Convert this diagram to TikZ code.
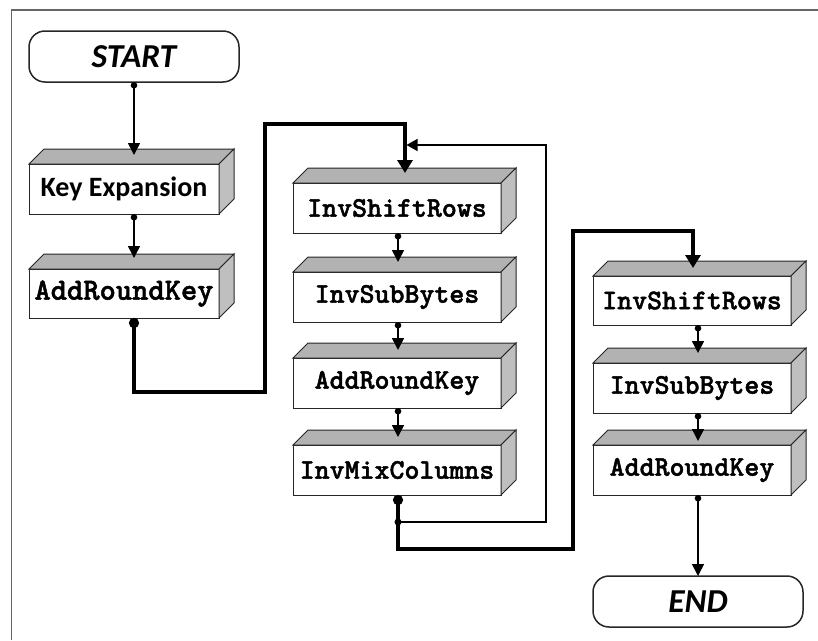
\documentclass[tikz,border=0pt]{standalone}
\usepackage{fontspec}
\setmainfont{Carlito}
\newfontfamily\codefont[Extension=.otf, RawFeature={embolden=1.6}]{lmmonolt10-bold}
\usetikzlibrary{arrows.meta}

\tikzset{
  block/.style={draw=black!85, line width=1pt, fill=white, minimum height=50pt, inner sep=0pt, outer sep=0pt, font=\codefont\fontsize{28.5}{30}\selectfont},
  terminal/.style={draw=black!85, line width=1.5pt, rounded corners=16pt, minimum width=210pt, minimum height=51pt, inner sep=0pt, outer sep=0pt, font=\bfseries\itshape\fontsize{33.5}{36}\selectfont},
  topface/.style={fill=gray!60, draw=black!85, line width=1pt},
  sideface/.style={fill=gray!50, draw=black!85, line width=1pt},
  flow/.style={line width=1.5pt, {Circle[length=6.5pt]}-{Triangle[length=12pt,width=12pt]}},
  bigflow/.style={line width=3.3pt, {Circle[length=10pt]}-{Triangle[length=13pt,width=15pt]}},
  loopline/.style={line width=1.5pt, -{Triangle[length=11pt,width=12pt]}}
}
% top and right faces of a box
\newcommand{\faces}[1]{%
  \filldraw[topface] (#1.north west) -- ++(15pt,15pt) -- ([shift={(15pt,15pt)}]#1.north east) -- (#1.north east) -- cycle;
  \filldraw[sideface] (#1.north east) -- ([shift={(15pt,15pt)}]#1.north east) -- ([shift={(15pt,15pt)}]#1.south east) -- (#1.south east) -- cycle;}

\begin{document}
\begin{tikzpicture}[x=1pt, y=-1pt]
    \useasboundingbox (0,0) rectangle (818,640);
    \draw[gray!80!black, line width=1.5pt] (11.5,640) -- (11.5,10) -- (818,10);

    % first column
    \node[terminal] (start) at (134,56.5) {START};
    \node[block, minimum width=190pt, font=\bfseries\fontsize{28}{30}\selectfont] (keyexp) at (124,189) {Key Expansion};
    \node[block, minimum width=190pt, minimum height=49pt, font=\codefont\fontsize{31}{33}\selectfont] (ark0) at (124,293.5) {AddRoundKey};
    \faces{keyexp}
    \faces{ark0}

    % rounds
    \node[block, minimum width=208pt] (isr1) at (397,208) {InvShiftRows};
    \node[block, minimum width=208pt] (isb1) at (397,297) {InvSubBytes};
    \node[block, minimum width=208pt] (ark1) at (397,383) {AddRoundKey};
    \node[block, minimum width=208pt] (imc1) at (397,470) {InvMixColumns};
    \faces{isr1}
    \faces{isb1}
    \faces{ark1}
    \faces{imc1}

    % final round
    \node[block, minimum width=198pt, minimum height=49pt] (isr2) at (692,300.5) {InvShiftRows};
    \node[block, minimum width=198pt] (isb2) at (692,388) {InvSubBytes};
    \node[block, minimum width=198pt] (ark2) at (692,470) {AddRoundKey};
    \faces{isr2}
    \faces{isb2}
    \faces{ark2}
    \node[terminal] (finish) at (698,601.5) {END};

    % connectors
    \draw[flow] (start.south) -- ([xshift=10pt,yshift=9pt]keyexp.north);
    \draw[flow] ([xshift=10pt]keyexp.south) -- ([xshift=10pt,yshift=11pt]ark0.north);
    \draw[bigflow] ([xshift=10pt]ark0.south) -- (134,392) -- (265,392) -- (265,124) -- (405,124) -- ([xshift=8pt,yshift=10pt]isr1.north);
    \draw[flow] ([xshift=1pt]isr1.south) -- ([xshift=1pt,yshift=10pt]isb1.north);
    \draw[flow] ([xshift=1pt]isb1.south) -- ([xshift=1pt,yshift=8pt]ark1.north);
    \draw[flow] ([xshift=1pt]ark1.south) -- ([xshift=1pt,yshift=8pt]imc1.north);
    \draw[bigflow] ([xshift=1pt]imc1.south) -- (398,549) -- (573,549) -- (573,231) -- (693,231) -- ([xshift=1pt,yshift=8pt]isr2.north);
    \coordinate (split) at (398,522);
    \fill (split) circle (3.5pt);
    \draw[loopline] (split) -- (546,522) -- (546,145) -- (406.5,145);
    \draw[flow] ([xshift=6pt]isr2.south) -- ([xshift=6pt,yshift=10pt]isb2.north);
    \draw[flow] ([xshift=6pt]isb2.south) -- ([xshift=6pt,yshift=4pt]ark2.north);
    \draw[flow] ([xshift=6pt]ark2.south) -- (finish.north);
\end{tikzpicture}
\end{document}
